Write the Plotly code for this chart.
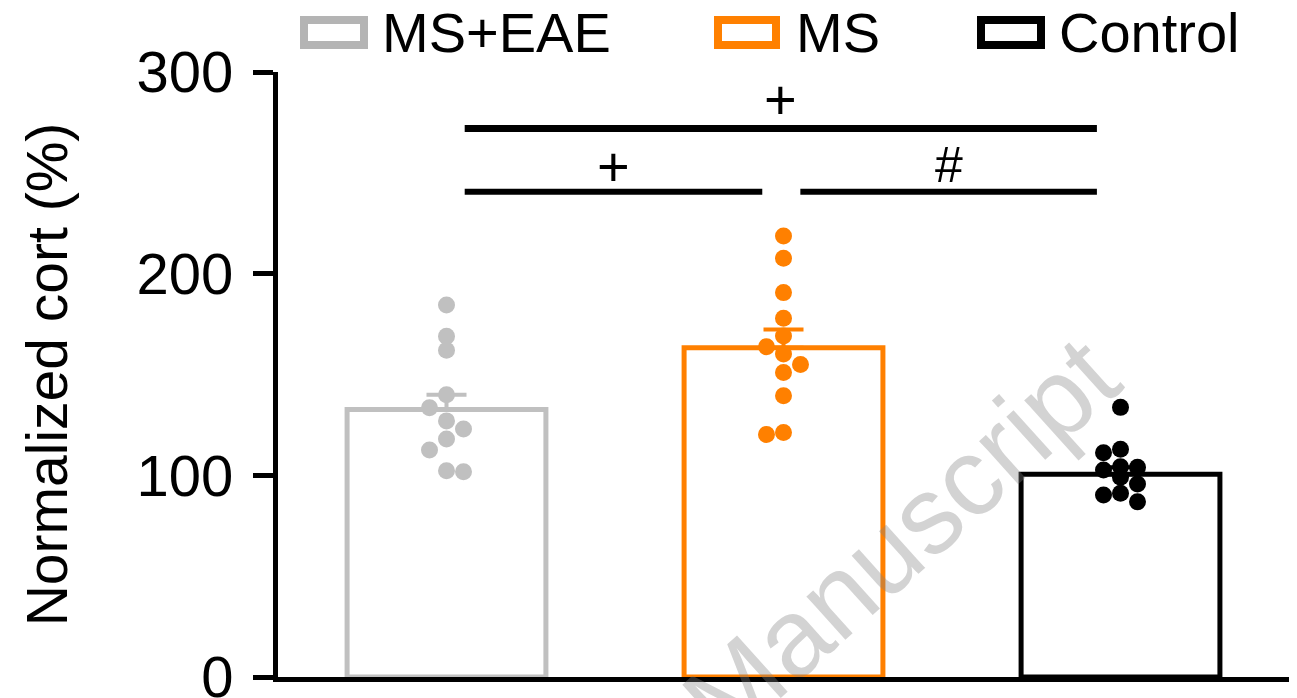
import plotly.graph_objects as go

# ---------------- data ----------------
groups = ["MS+EAE", "MS", "Control"]
eae_values = [184.5, 169, 162, 140, 133.5, 127, 123, 118, 112.6, 102.3, 101.8]
ms_values = [218.7, 207.6, 190.6, 177.9, 169.1, 163.8, 160.2, 155, 151, 139.5, 121.2, 120.3]
control_values = [133.7, 112.9, 111.2, 104.3, 104, 102.6, 99, 95.7, 91.1, 90.2, 86.9]
group_means = [132.7, 163.3, 100.5]
group_sems = [7.3, 9.0, 3.5]
y_ticks = [0, 100, 200, 300]
sig_labels = ["+", "+", "#"]

colors = ["#C0C0C0", "#FF8000", "#000000"]
FONT = "Liberation Sans, Arial, sans-serif"

# ---------------- geometry helpers ----------------
W, H = 1297, 698
ML, MR, MT, MB = 278, 8, 72, 21
PW, PH = W - ML - MR, H - MT - MB
XR = (-0.5, 2.5)
YR = (0, 300)
px_per_x = PW / (XR[1] - XR[0])
px_per_y = PH / (YR[1] - YR[0])


def px2paper_x(px):
    return (px - ML) / PW


def px2paper_y(py):
    return (H - MB - py) / PH


def swarm_offsets(values, step=17, thresh=14.0):
    """Simple 3-column beeswarm computed in pixel space."""
    placed = []
    offs = []
    last = 1
    for v in values:
        y = v * px_per_y
        prefs = [0, -last, last]
        best, best_d = None, -1
        chosen = None
        for k in prefs:
            x = k * step
            dmin = min([((x - px) ** 2 + (y - py) ** 2) ** 0.5 for px, py in placed] or [1e9])
            if dmin >= thresh:
                chosen = k
                break
            if dmin > best_d:
                best, best_d = k, dmin
        if chosen is None:
            chosen = best
        if chosen != 0:
            last = chosen
        placed.append((chosen * step, y))
        offs.append(chosen * step / px_per_x)
    return offs


fig = go.Figure()

all_points = [eae_values, ms_values, control_values]

# bars with upward SEM
for i, g in enumerate(groups):
    fig.add_trace(go.Bar(
        x=[i], y=[group_means[i]], width=0.59, name=g,
        marker=dict(color="rgba(255,255,255,0)", line=dict(color=colors[i], width=5)),
        error_y=dict(type="data", array=[group_sems[i]], arrayminus=[0], symmetric=False,
                     color=colors[i], thickness=4, width=20),
        showlegend=False,
    ))

# individual points
for i, vals in enumerate(all_points):
    offs = swarm_offsets(vals)
    fig.add_trace(go.Scatter(
        x=[i + o for o in offs], y=vals, mode="markers",
        marker=dict(color=colors[i], size=17, line=dict(width=0)),
        showlegend=False, name=groups[i],
    ))

# significance brackets
brackets = [
    (0.054, 1.93, 272, 286.5, sig_labels[0], 56),
    (0.054, 0.937, 240.6, 253, sig_labels[1], 56),
    (1.05, 1.93, 240.6, 254, sig_labels[2], 50),
]
for j, (x0, x1, yl, yt, lab, fs) in enumerate(brackets):
    fig.add_shape(type="line", xref="x", yref="y", x0=x0, x1=x1, y0=yl, y1=yl,
                  line=dict(color="black", width=7 if j == 0 else 6))
    fig.add_annotation(x=(x0 + x1) / 2, y=yt, xref="x", yref="y", text=lab, showarrow=False,
                       font=dict(family=FONT, size=fs, color="black"),
                       xanchor="center", yanchor="middle")

# custom legend (outlined rectangles + labels)
legend_boxes = [(300, 368), (714, 780), (977, 1045)]
legend_text_x = [380, 794, 1057]
for i, g in enumerate(groups):
    bx0, bx1 = legend_boxes[i]
    fig.add_shape(type="rect", xref="paper", yref="paper",
                  x0=px2paper_x(bx0 + 4), x1=px2paper_x(bx1 - 4),
                  y0=px2paper_y(20), y1=px2paper_y(45),
                  line=dict(color=colors[i] if i != 0 else "#B4B4B4", width=8),
                  fillcolor="white")
    fig.add_annotation(x=px2paper_x(legend_text_x[i]), y=px2paper_y(33), xref="paper", yref="paper",
                       text=g, showarrow=False, xanchor="left", yanchor="middle",
                       font=dict(family=FONT, size=56, color="black"))

# watermark
fig.add_annotation(x=px2paper_x(900), y=px2paper_y(538), xref="paper", yref="paper",
                   text="Manuscript", showarrow=False, textangle=-42,
                   font=dict(family=FONT, size=110, color="rgba(128,128,128,0.35)"),
                   xanchor="center", yanchor="middle")

fig.update_layout(
    width=W, height=H,
    margin=dict(l=ML, r=MR, t=MT, b=MB, autoexpand=False),
    plot_bgcolor="white", paper_bgcolor="white",
    barmode="overlay", showlegend=False,
    font=dict(family=FONT, color="black"),
    xaxis=dict(range=list(XR), showline=True, linecolor="black", linewidth=5,
               showticklabels=False, ticks="", showgrid=False, zeroline=False, fixedrange=True),
    yaxis=dict(range=list(YR), tickvals=y_ticks, ticktext=[str(t) for t in y_ticks],
               ticks="outside", ticklen=20, tickwidth=5, tickcolor="black",
               showline=True, linecolor="black", linewidth=5, showgrid=False, zeroline=False,
               tickfont=dict(family=FONT, size=58, color="black"), ticklabelstandoff=8,
               ticklabeloverflow="allow",
               title=dict(text="Normalized cort (%)", font=dict(family=FONT, size=57, color="black"),
                          standoff=52),
               automargin=False),
)

fig.write_html("out.html", config={"displayModeBar": False, "staticPlot": True})

# remove the default page margin so the figure sits at the window's top-left corner
with open("out.html", "r", encoding="utf-8") as f:
    html = f.read()
html = html.replace("<head>", "<head><style>html,body{margin:0;padding:0;overflow:hidden;}</style>", 1)
with open("out.html", "w", encoding="utf-8") as f:
    f.write(html)
